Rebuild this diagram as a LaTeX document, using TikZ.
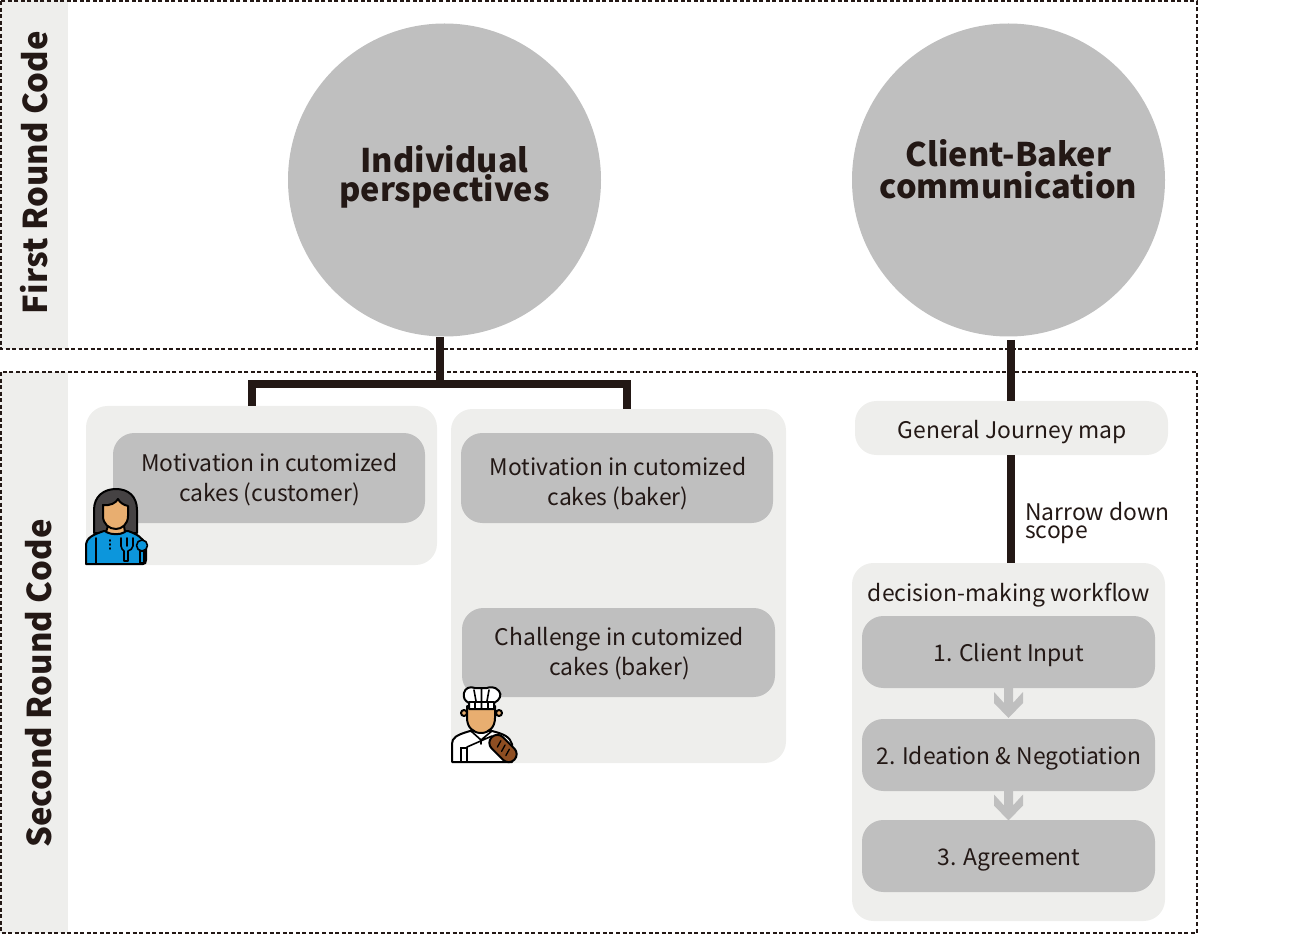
\documentclass[tikz,border=0pt]{standalone}
\usepackage{fontspec}
\setmainfont{Noto Sans CJK SC}
\definecolor{ink}{HTML}{231815}
\definecolor{midgray}{HTML}{BFBFBF}
\definecolor{lightgray}{HTML}{EEEEEC}
\definecolor{skin}{HTML}{E8AE70}
\definecolor{hair}{HTML}{454243}
\definecolor{shirt}{HTML}{0C96DC}
\definecolor{bread}{HTML}{8E4E22}
\def\u{0.75pt}
\tikzset{
  x=0.75pt,y=-0.75pt,
  frame/.style={draw=ink,line width=1.25pt,dash pattern=on 3pt off 1.9pt},
  strip/.style={fill=lightgray,draw=none},
  bigcircle/.style={circle,fill=midgray,draw=none,minimum size=313*\u,inner sep=0pt},
  titletext/.style={inner sep=0pt,align=center,text=ink,font=\fontsize{24.4pt}{#1}\selectfont\bfseries},
  outerbox/.style={fill=lightgray,draw=none,rounded corners=16pt,inner sep=0pt},
  innerbox/.style={fill=midgray,draw=none,rounded corners=16pt,inner sep=0pt},
  boxtext/.style={text=ink,inner sep=0pt,align=center,font=\fontsize{17.15pt}{22pt}\selectfont},
  stem/.style={draw=ink,line width=6pt},
  sidelabel/.style={rotate=90,text=ink,inner sep=0pt,font=\fontsize{24.6pt}{28pt}\selectfont\bfseries},
  chevron/.style={fill=midgray,draw=none},
  iconline/.style={draw=black,line width=1.5pt,line join=round,line cap=round},
  icondetail/.style={draw=black,line width=1.2pt,line cap=round},
}
\begin{document}
\begin{tikzpicture}
\useasboundingbox (0,0) rectangle (1293,934);
% strips and frames
\fill[strip] (0,0) rectangle (68,349);
\fill[strip] (0,372) rectangle (68,933);
\draw[frame] (1,1) rectangle (1197,349);
\draw[frame] (1,372) rectangle (1197,933);
\node[sidelabel] (first) at (34.5,172.5) {First Round Code};
\node[sidelabel] (second) at (39,683.5) {Second Round Code};
% circles
\node[bigcircle] (indiv) at (444.5,180) {};
\node[bigcircle] (client) at (1008.5,180) {};
\node[titletext=22pt] (indivT) at (444.5,177) {Individual\\perspectives};
\node[titletext=24pt] (clientT) at (1008.5,169) {Client-Baker\\communication};
% outer boxes
\node[outerbox,minimum width=351*\u,minimum height=159*\u] (groupA) at (261.5,485.5) {};
\node[outerbox,minimum width=335*\u,minimum height=354*\u] (groupB) at (618.5,586) {};
\node[outerbox,minimum width=313*\u,minimum height=54*\u] (journey) at (1011.5,428) {};
\node[outerbox,minimum width=313*\u,minimum height=358*\u] (workflow) at (1008.5,742) {};
% inner boxes
\node[innerbox,minimum width=312*\u,minimum height=90*\u] (motcust) at (269,478) {};
\node[innerbox,minimum width=312*\u,minimum height=90*\u] (motbaker) at (617,478) {};
\node[innerbox,minimum width=313*\u,minimum height=89*\u] (chalbaker) at (618.5,652.5) {};
\node[innerbox,minimum width=293*\u,minimum height=72*\u] (step1) at (1008.5,652) {};
\node[innerbox,minimum width=293*\u,minimum height=72*\u] (step2) at (1008.5,755) {};
\node[innerbox,minimum width=293*\u,minimum height=72*\u] (step3) at (1008.5,856) {};
% texts
\node[boxtext] (motcustT) at (269.5,479.5) {Motivation in cutomized\\cakes (customer)};
\node[boxtext] (motbakerT) at (618,483.5) {Motivation in cutomized\\cakes (baker)};
\node[boxtext] (chalbakerT) at (619.5,653.5) {Challenge in cutomized\\cakes (baker)};
\node[boxtext] (journeyT) at (1012,432) {General Journey map};
\node[boxtext] (dmw) at (1009,595) {decision-making workflow};
\node[boxtext] (step1T) at (1009,655) {1. Client Input};
\node[boxtext] (step2T) at (1009,758) {2. Ideation \& Negotiation};
\node[boxtext] (step3T) at (1009,860) {3. Agreement};
\node[boxtext,anchor=west,align=left,font=\fontsize{17.15pt}{14.2pt}\selectfont] (narrow) at (1025,523) {Narrow down\\scope};
% connectors
\coordinate (hub) at (439.5,384);
\coordinate (hubL) at (251.5,384);
\coordinate (hubR) at (627,384);
\coordinate (rail) at (1011,400);
\draw[stem] (hub |- indiv.south) -- (hub);
\draw[stem,line join=miter] (hubL |- groupA.north) -- (hubL) -- (hubR) -- (hubR |- groupB.north);
\draw[stem] (rail |- 0,340) -- (rail |- journey.north);
\draw[stem] (rail |- journey.south) -- (rail |- workflow.north);
% chevrons
\foreach \dy in {0,102.5}{
  \fill[chevron,shift={(0,\dy)}] (1004,688)--(1013,688)--(1013,703)--(1023,692)--(1023,703)--(1008.5,718)--(994,703)--(994,692)--(1004,703)--cycle;
}
% customer icon
\filldraw[iconline,fill=hair] (94,533) -- (94,510) .. controls (94,496) and (104,489) .. (116,489) .. controls (128,489) and (137,496) .. (137,510) -- (137,533) -- cycle;
\filldraw[iconline,fill=shirt] (86,564) -- (86,546) .. controls (86,538) and (92,535) .. (104,531) -- (128,531) .. controls (137,534) and (143,538) .. (146,545) -- (146,560) .. controls (146,563) and (145,564) .. (143,564) -- cycle;
\filldraw[iconline,fill=skin] (108,526) -- (124,526) -- (125,532) .. controls (120,535) and (112,535) .. (106,532) -- cycle;
\filldraw[iconline,fill=skin] (103,505) .. controls (110,506) and (116,503) .. (118,499) .. controls (120,503) and (124,505) .. (128,506) -- (128,516) .. controls (128,524) and (122,529) .. (116,529) .. controls (109,529) and (103,524) .. (103,516) -- cycle;
\draw[icondetail] (96,538) -- (96,564) (110,540) -- (110,541) (110,544) -- (110,545) (110,548) -- (110,549);
\filldraw[iconline,fill=shirt,line width=1.2pt] (121,538) -- (121,546) .. controls (121,549) and (123,550) .. (124,551) -- (124,561) -- (128,561) -- (128,551) .. controls (130,550) and (133,549) .. (133,546) -- (133,538);
\draw[icondetail] (127,538) -- (127,546);
\filldraw[iconline,fill=shirt,line width=1.2pt] (140,551) -- (140,563) -- (144,563) -- (144,551) -- cycle;
\filldraw[iconline,fill=shirt,line width=1.2pt] (142,545.5) circle (5.5);
% baker icon
\filldraw[iconline,fill=white] (452,762) -- (452,744) .. controls (452,738) and (456,735) .. (470,731) -- (492,731) .. controls (504,734) and (510,737) .. (512,744) -- (512,762) -- cycle;
\draw[icondetail] (461,762) -- (461,748) -- (467,748) -- (467,762) (471,731) -- (481,740) -- (492,731) (467,747) -- (492,736) (481,740) -- (481,744);
\filldraw[iconline,fill=skin] (464,713) circle (3);
\filldraw[iconline,fill=skin] (499,713) circle (3);
\filldraw[iconline,fill=skin] (467,706) -- (495,706) -- (495,718) .. controls (495,727) and (489,733) .. (481,733) .. controls (473,733) and (467,727) .. (467,718) -- cycle;
\filldraw[iconline,fill=white] (469,709) -- (494,709) -- (494,703) .. controls (500,700) and (502,695) .. (499,691) .. controls (495,686) and (489,687) .. (487,688) -- (475,688) .. controls (470,686) and (465,688) .. (464,693) .. controls (463,698) and (465,701) .. (469,703) -- cycle;
\draw[icondetail] (469,702) -- (494,702) (474,690) -- (476,701) (481.5,689) -- (481.5,701) (489,690) -- (487,701) (475,702) -- (475,709) (481.5,702) -- (481.5,709) (488,702) -- (488,709);
\begin{scope}[shift={(503,748.5)},rotate=-45]
\filldraw[iconline,fill=bread,rounded corners=6pt] (-16,-8) rectangle (16,8);
\draw[icondetail,line width=1pt] (-7,-4) -- (-5,3) (-1,-4) -- (1,3) (5,-4) -- (7,3);
\end{scope}
\end{tikzpicture}
\end{document}
